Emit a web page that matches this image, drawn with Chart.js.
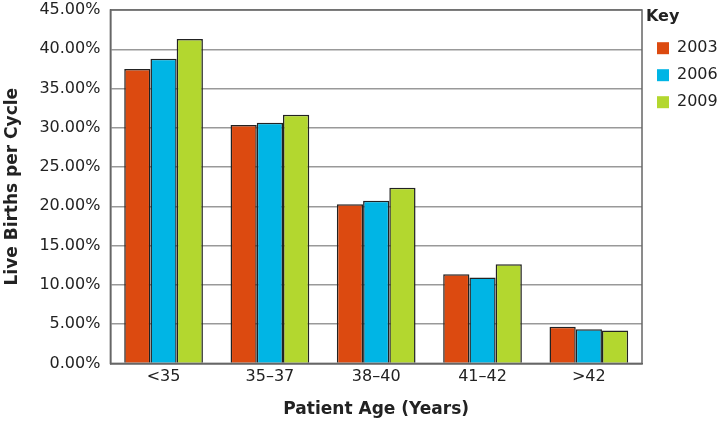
<!DOCTYPE html>
<html>
<head>
<meta charset="utf-8">
<script src="https://cdn.jsdelivr.net/npm/chart.js@4/dist/chart.umd.min.js"></script>
<style>
  html, body { margin: 0; padding: 0; background: #fff; }
  #wrap { width: 720px; height: 423px; }
</style>
</head>
<body>
<div id="wrap"><canvas id="chart"></canvas></div>
<script>
const ageGroups = ['<35', '35\u201337', '38\u201340', '41\u201342', '>42']
const births2003 = [37.5, 30.35, 20.28, 11.35, 4.68]
const births2006 = [38.8, 30.65, 20.7, 10.93, 4.34]
const births2009 = [41.3, 31.67, 22.36, 12.63, 4.2]

Chart.defaults.font.family = '"DejaVu Sans"'
Chart.defaults.color = '#222'

// frame round the plot area + fixed legend width
const frame = {
  id: 'frame',
  beforeInit(chart) {
    const legend = chart.legend
    if (!legend) return
    const fit = legend.fit.bind(legend)
    legend.fit = function () {
      fit()
      this.width = 78
    }
    const draw = legend.draw.bind(legend)
    legend.draw = function () {
      const ctx = this.ctx
      ctx.save()
      ctx.translate(4, 0)
      draw()
      ctx.restore()
    }
  },
  afterDraw(chart) {
    const { ctx, chartArea: a } = chart
    ctx.save()
    ctx.strokeStyle = '#666'
    ctx.lineWidth = 1.5
    ctx.strokeRect(a.left, a.top, a.right - a.left, a.bottom - a.top)
    ctx.restore()
  },
}

function series(label, data, color) {
  return {
    label,
    data,
    backgroundColor: color,
    borderColor: '#222',
    borderWidth: 1.5,
    borderSkipped: 'bottom',
  }
}

new Chart(document.getElementById('chart'), {
  type: 'bar',
  data: {
    labels: ageGroups,
    datasets: [
      series('2003', births2003, '#dc4a10'),
      series('2006', births2006, '#00b5e5'),
      series('2009', births2009, '#b3d72f'),
    ],
  },
  options: {
    responsive: true,
    maintainAspectRatio: false,
    animation: false,
    layout: { padding: { top: -9, right: 0, bottom: 3, left: 2 } },
    datasets: { bar: { categoryPercentage: 0.74, barPercentage: 1 } },
    scales: {
      y: {
        min: 0,
        max: 45,
        afterFit(scale) {
          // tick padding would otherwise push the plot top down
          scale.paddingTop = 10
          scale.paddingBottom = 10
        },
        ticks: {
          stepSize: 5,
          padding: 10,
          font: { size: 16 },
          color: '#222',
          callback: v => v.toFixed(2) + '%',
        },
        grid: { color: '#999', lineWidth: 1.5, drawTicks: false },
        border: { color: '#555', width: 1.5 },
        title: {
          display: true,
          text: 'Live Births per Cycle',
          font: { size: 17, weight: 'bold' },
          color: '#222',
          padding: { top: 0, bottom: 7 },
        },
      },
      x: {
        ticks: { font: { size: 16 }, color: '#222', padding: 4 },
        grid: { display: false, drawTicks: false },
        border: { color: '#555', width: 1.5 },
        title: {
          display: true,
          text: 'Patient Age (Years)',
          font: { size: 17, weight: 'bold' },
          color: '#222',
          padding: { top: 9, bottom: 0 },
        },
      },
    },
    plugins: {
      legend: {
        position: 'right',
        align: 'start',
        title: {
          display: true,
          text: 'Key',
          position: 'start',
          font: { size: 16, weight: 'bold' },
          color: '#222',
          padding: { top: 18, bottom: 1 },
        },
        labels: {
          boxWidth: 12,
          boxHeight: 12,
          useBorderRadius: false,
          padding: 11,
          font: { size: 16 },
          color: '#222',
          generateLabels: chart =>
            chart.data.datasets.map((d, i) => ({
              text: d.label,
              fillStyle: d.backgroundColor,
              strokeStyle: d.backgroundColor,
              lineWidth: 0,
              datasetIndex: i,
            })),
        },
      },
      tooltip: { enabled: false },
    },
  },
  plugins: [frame],
})
</script>
</body>
</html>
